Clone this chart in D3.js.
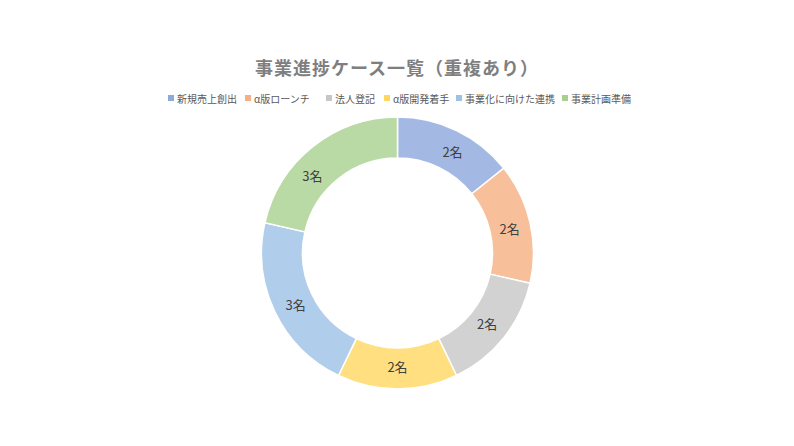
<!DOCTYPE html>
<html><head><meta charset="utf-8">
<script src="https://cdn.jsdelivr.net/npm/d3@7/dist/d3.min.js"></script>
<style>
body{margin:0;background:#fff;}
svg{display:block;font-family:"Noto Sans CJK JP","Noto Sans",sans-serif;}
</style></head>
<body><svg id="c" width="794" height="446"></svg>
<script>
const title = "事業進捗ケース一覧（重複あり）";
const categories = ["新規売上創出","α版ローンチ","法人登記","α版開発着手","事業化に向けた連携","事業計画準備"];
const values = [2,2,2,2,3,3];
const labelSuffix = "名";
const fgColors = ["#8eaadc","#f4b084","#c6c6c6","#ffd65e","#9cc2e6","#a8d08d"];
const bgColors = ["#b7c8e9","#f9cfb2","#dedede","#ffe8a0","#c3daf0","#cbe3bc"];

const svg = d3.select("#c");
const defs = svg.append("defs");
categories.forEach((c,i)=>{
  const p = defs.append("pattern").attr("id","p"+i).attr("patternUnits","userSpaceOnUse")
    .attr("width",2).attr("height",2);
  p.append("rect").attr("width",2).attr("height",2).attr("fill",bgColors[i]);
  p.append("rect").attr("x",0).attr("y",0).attr("width",1).attr("height",1).attr("fill",fgColors[i]);
  p.append("rect").attr("x",1).attr("y",1).attr("width",1).attr("height",1).attr("fill",fgColors[i]);
});

svg.append("text").attr("x",397).attr("y",75).attr("text-anchor","middle")
  .attr("font-size",18).attr("font-weight","bold").attr("fill","#7f7f7f")
  .attr("letter-spacing",1).text(title);

// legend
const legendX = [168,245,326,384,456,562];
const lg = svg.append("g");
categories.forEach((c,i)=>{
  lg.append("rect").attr("x",legendX[i]).attr("y",95).attr("width",6).attr("height",6).attr("fill",fgColors[i]);
  lg.append("text").attr("x",legendX[i]+9).attr("y",102.5).attr("font-size",10).attr("fill","#595959").text(c);
});

const cx=397.5, cy=253, rO=136, rI=95;
const pie = d3.pie().sort(null).value(d=>d)(values);
const arc = d3.arc().innerRadius(rI).outerRadius(rO);
const g = svg.append("g").attr("transform",`translate(${cx},${cy})`);
g.selectAll("path").data(pie).enter().append("path")
  .attr("d",arc).attr("fill",(d,i)=>`url(#p${i})`)
  .attr("stroke","#fff").attr("stroke-width",1.5);
// small angular nudges (degrees) of the data labels, as placed in the original
const labelNudge = [3,1,0,0,-1.5,-9.4];
const rL = (rI+rO)/2 - 1;
g.selectAll("text.l").data(pie).enter().append("text").attr("class","l")
  .attr("transform",(d,i)=>{
    const a = (d.startAngle+d.endAngle)/2 + labelNudge[i]*Math.PI/180;
    return `translate(${rL*Math.sin(a)},${-rL*Math.cos(a)})`;
  })
  .attr("text-anchor","middle").attr("dy","0.35em")
  .attr("font-size",13).attr("fill","#404040")
  .text(d=>d.data+labelSuffix);
</script></body></html>
